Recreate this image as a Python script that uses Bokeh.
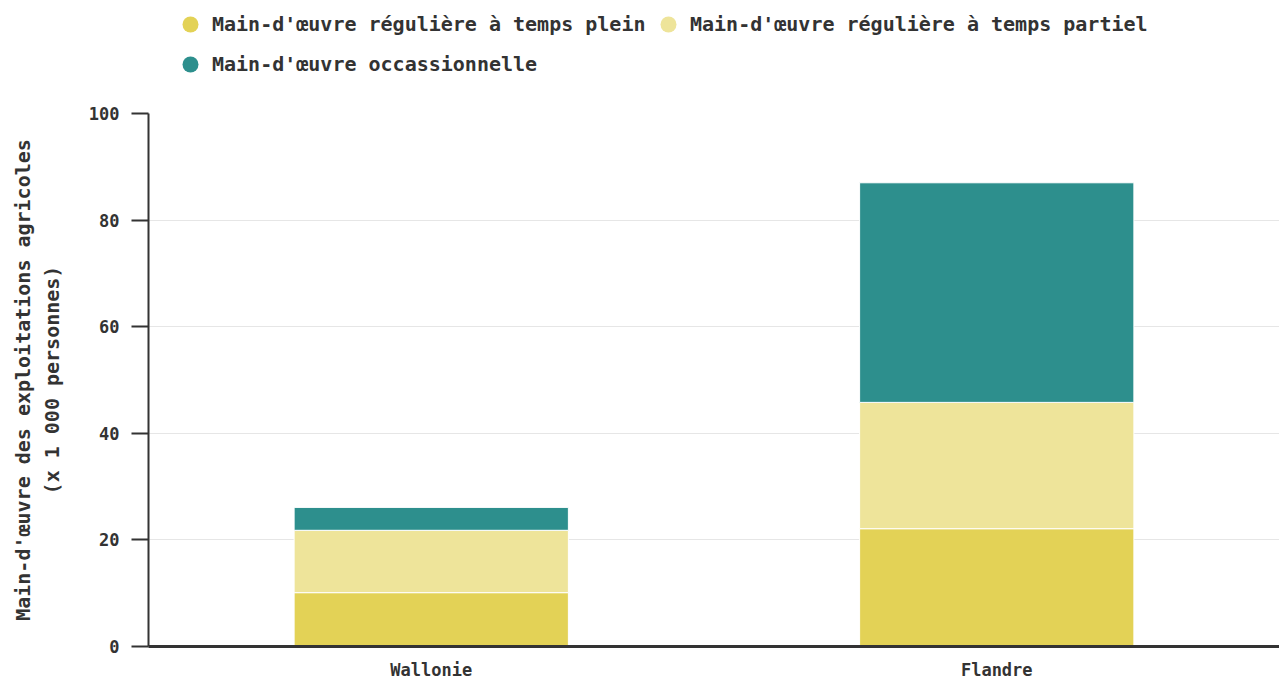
from bokeh.plotting import figure
from bokeh.layouts import column
from bokeh.models import Legend, LegendItem, ColumnDataSource, FactorRange, FixedTicker, Range1d
from bokeh.embed import file_html
from bokeh.resources import INLINE

regions = ["Wallonie", "Flandre"]
series = [
    "Main-d'œuvre régulière à temps plein",
    "Main-d'œuvre régulière à temps partiel",
    "Main-d'œuvre occassionnelle",
]
plein = [10.1, 22.1]
partiel = [11.7, 23.7]
occasionnelle = [4.3, 41.2]
y_ticks = [0, 20, 40, 60, 80, 100]
colors = ["#E3D256", "#EEE49A", "#2D8F8D"]

FONT = "DejaVu Sans Mono"
TXT = "#333333"

source = ColumnDataSource(dict(region=regions, plein=plein, partiel=partiel, occ=occasionnelle))

# ---- legend strip (top) ----
top = figure(width=1279, height=100, x_range=Range1d(0, 1), y_range=Range1d(0, 1),
             x_axis_location=None, y_axis_location=None,
             output_backend="svg", toolbar_location=None, min_border=0)
top.outline_line_color = None
top.grid.visible = False
dummies = [top.scatter(x=[float("nan")], y=[float("nan")], marker="circle", size=18,
                       fill_color=c, line_color=None) for c in colors]
legend = Legend(
    items=[LegendItem(label=s, renderers=[r]) for s, r in zip(series, dummies)],
    orientation="horizontal", ncols=2, location=(22, 16),
    glyph_width=40, glyph_height=40, spacing=0, label_standoff=2,
    label_width=436, padding=0, margin=0,
    border_line_color=None, background_fill_alpha=0,
    label_text_font=FONT, label_text_font_style="bold",
    label_text_font_size="20px", label_text_color=TXT,
)
top.add_layout(legend, "center")

# ---- main chart ----
p = figure(
    x_range=FactorRange(*regions), y_range=Range1d(0, 100),
    width=1279, height=582, output_backend="svg", toolbar_location=None,
    min_border_left=148, min_border_top=13, min_border_bottom=36, min_border_right=0,
)
p.outline_line_color = None

p.vbar_stack(["plein", "partiel", "occ"], x="region", width=0.485, source=source,
             fill_color=colors, line_color="white", line_width=1)

p.xgrid.grid_line_color = None
p.ygrid.grid_line_color = "#e6e6e6"
p.ygrid.ticker = FixedTicker(ticks=y_ticks)

ya = p.yaxis[0]
ya.ticker = FixedTicker(ticks=y_ticks)
ya.axis_line_width = 2
ya.axis_line_color = TXT
ya.major_tick_line_width = 2
ya.major_tick_line_color = TXT
ya.major_tick_out = 17
ya.major_tick_in = 0
ya.minor_tick_line_color = None
ya.major_label_standoff = 12
ya.major_label_text_font = FONT
ya.major_label_text_font_style = "bold"
ya.major_label_text_font_size = "17px"
ya.major_label_text_color = TXT
ya.axis_label = "Main-d'œuvre des exploitations agricoles\n(x 1 000 personnes)"
ya.axis_label_text_font = FONT
ya.axis_label_text_font_style = "bold"
ya.axis_label_text_font_size = "20px"
ya.axis_label_text_color = TXT
ya.axis_label_standoff = 22

xa = p.xaxis[0]
xa.axis_line_width = 3
xa.axis_line_color = TXT
xa.major_tick_line_color = None
xa.major_tick_out = 0
xa.major_tick_in = 0
xa.minor_tick_line_color = None
xa.major_label_standoff = 13
xa.major_label_text_font = FONT
xa.major_label_text_font_style = "bold"
xa.major_label_text_font_size = "17px"
xa.major_label_text_color = TXT

layout = column(top, p, spacing=0)

open("out.html", "w").write(file_html(layout, INLINE))
